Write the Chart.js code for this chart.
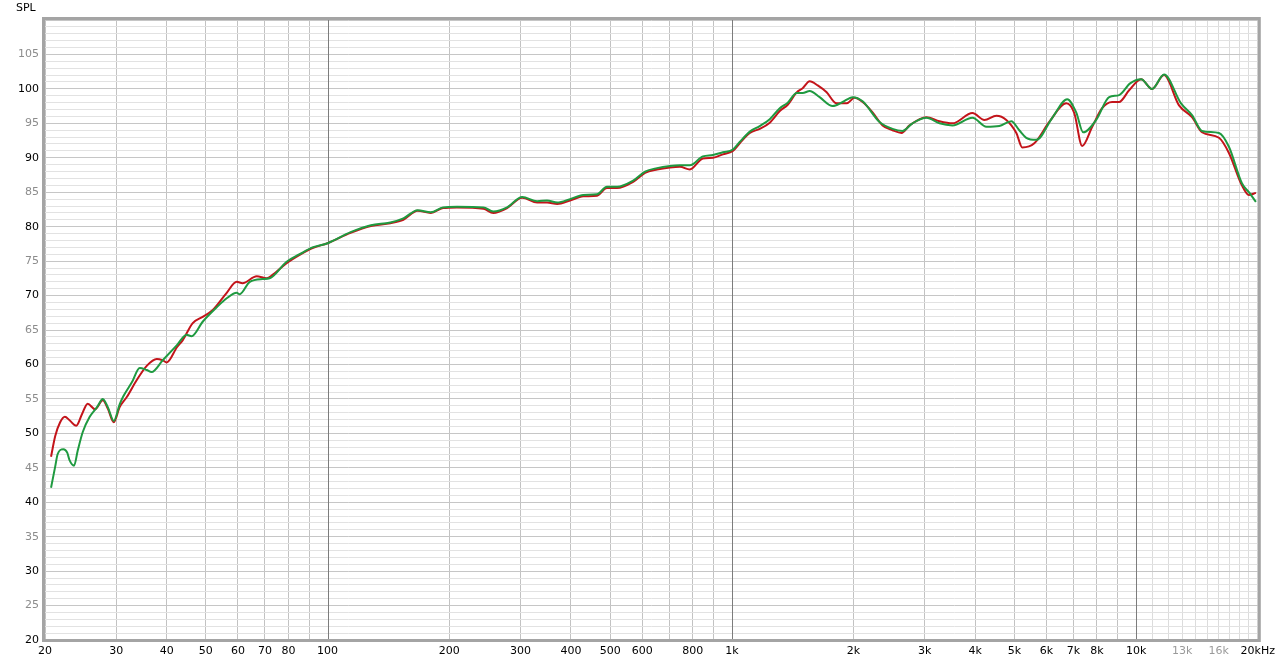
<!DOCTYPE html>
<html>
<head>
<meta charset="utf-8">
<script src="https://cdn.jsdelivr.net/npm/chart.js@4"></script>
<style>
  html, body { margin: 0; padding: 0; background: #fff; }
  #wrap { position: relative; width: 1280px; height: 667px; }
</style>
</head>
<body>
<div id="wrap"><canvas id="spl" width="1280" height="667"></canvas></div>
<script>
// frequency (Hz) / SPL (dB)
const redFreq = [
  20.7, 21.2, 21.8, 22.4, 23.0, 23.9, 24.7, 25.5, 26.6, 27.8, 28.6, 29.6, 30.6, 31.9, 33.7, 35.7, 37.8,
  39.1, 40.0, 42.4, 43.8, 46.4, 49.1, 52.0, 56.3, 59.6, 61.6, 66.8, 70.7, 73.1, 79.2, 85.3, 91.8, 100,
  114, 128, 143, 154, 167, 180, 193, 209, 243, 257, 278, 303, 330, 349, 370, 398, 429, 464, 491, 520,
  570, 610, 653, 703, 744, 787, 848, 898, 950, 1006,
  1046, 1108, 1172, 1241, 1314, 1375, 1447, 1497, 1558, 1631, 1716, 1816, 1923, 2012, 2106, 2229, 2360,
  2497, 2629, 2751, 3030, 3263, 3513, 3937, 4215, 4512, 4775, 5056, 5230, 5600, 6099, 6718, 7030, 7356,
  7789, 8241, 8724, 9078, 9610, 10287, 10951, 11725, 12770, 13750, 14555, 16030, 16966, 18269, 19010, 19790
];
const redSpl = [
  46.6, 49.6, 51.6, 52.4, 51.9, 51.1, 52.8, 54.3, 53.5, 54.8, 53.6, 51.6, 53.8, 55.3, 57.7, 59.8, 60.8,
  60.6, 60.3, 62.5, 63.5, 66.0, 66.9, 67.9, 70.4, 72.0, 71.8, 72.8, 72.5, 73.0, 74.7, 75.9, 76.9, 77.6,
  79.1, 80.1, 80.5, 81.0, 82.3, 82.0, 82.7, 82.8, 82.6, 82.0, 82.7, 84.2, 83.5, 83.5, 83.3, 83.8, 84.4, 84.5, 85.6, 85.6,
  86.5, 87.8, 88.3, 88.6, 88.7, 88.3, 89.9, 90.0, 90.5, 91.0,
  92.1, 93.6, 94.2, 95.1, 96.8, 97.7, 99.5, 100.1, 101.1, 100.5, 99.5, 97.9, 97.9, 98.7, 98.1, 96.6, 94.7,
  94.0, 93.6, 94.7, 95.9, 95.3, 95.0, 96.5, 95.5, 96.1, 95.5, 93.6, 91.5, 92.1, 95.2, 97.9, 96.5, 91.7,
  94.5, 97.2, 98.1, 98.1, 99.8, 101.4, 100.0, 102.0, 97.6, 95.9, 93.7, 92.9, 90.7, 86.0, 84.6, 84.9
];

const greenFreq = [
  20.7, 21.2, 21.5, 22.2, 22.7, 23.0, 23.6, 24.1, 24.8, 25.8, 26.9, 27.8, 28.6, 29.6, 30.6, 31.2, 32.8, 34.3,
  35.7, 36.7, 39.1, 42.4, 44.8, 46.1, 49.1, 53.2, 56.3, 59.6, 60.6, 64.2, 69.1, 71.9, 79.2, 85.3, 91.8, 100,
  114, 128, 143, 154, 167, 180, 193, 209, 243, 257, 278, 303, 330, 349, 370, 398, 429, 464, 491, 520,
  570, 610, 653, 703, 744, 787, 848, 898, 950, 1006,
  1046, 1108, 1172, 1241, 1314, 1375, 1447, 1497, 1558, 1649, 1776, 1880, 1990, 2106, 2319, 2497, 2644,
  2798, 3030, 3263, 3513, 3937, 4264, 4588, 4913, 5140, 5350, 5664, 6204, 6754, 7109, 7398, 7966, 8577,
  9078, 9665, 10287, 10951, 11725, 12915, 13750, 14555, 16030, 16966, 18269, 19010, 19790
];
const greenSpl = [
  42.1, 45.2, 47.0, 47.7, 47.2, 46.1, 45.3, 47.5, 50.2, 52.4, 53.8, 55.0, 53.8, 51.8, 54.2, 55.3, 57.4, 59.5,
  59.2, 58.9, 60.6, 62.8, 64.3, 64.1, 66.2, 68.3, 69.6, 70.4, 70.2, 72.0, 72.4, 72.5, 74.9, 76.0, 77.0, 77.6,
  79.2, 80.2, 80.6, 81.2, 82.4, 82.1, 82.8, 82.9, 82.8, 82.2, 82.8, 84.3, 83.7, 83.8, 83.5, 84.0, 84.6, 84.7, 85.8, 85.8,
  86.7, 88.0, 88.5, 88.8, 88.9, 88.9, 90.2, 90.4, 90.8, 91.2,
  92.3, 93.8, 94.6, 95.6, 97.2, 98.0, 99.4, 99.4, 99.7, 98.8, 97.5, 98.1, 98.8, 98.2, 95.2, 94.2, 93.9,
  95.0, 95.8, 95.0, 94.7, 95.8, 94.5, 94.6, 95.3, 94.0, 92.9, 92.6, 95.8, 98.5, 96.6, 93.7, 95.5, 98.8,
  99.1, 100.8, 101.4, 100.0, 102.1, 97.9, 96.2, 93.9, 93.6, 91.6, 86.3, 85.0, 83.6
];

// axis ticks
const xGridVals = [20, 30, 40, 50, 60, 70, 80, 90, 100, 200, 300, 400, 500, 600, 700, 800, 900,
  1000, 2000, 3000, 4000, 5000, 6000, 7000, 8000, 9000, 10000,
  11000, 12000, 13000, 14000, 15000, 16000, 17000, 18000, 19000, 20000];
const xDecades = [100, 1000, 10000];
const xTickVals = [20, 30, 40, 50, 60, 70, 80, 100, 200, 300, 400, 500, 600, 800,
  1000, 2000, 3000, 4000, 5000, 6000, 7000, 8000, 10000, 13000, 16000, 20000];
const xTickText = ['20', '30', '40', '50', '60', '70', '80', '100', '200', '300', '400', '500', '600', '800',
  '1k', '2k', '3k', '4k', '5k', '6k', '7k', '8k', '10k', '13k', '16k', '20kHz'];
const xGreyLabels = [13000, 16000];
const yMin = 20, yMax = 110;

const FONT = { family: '"DejaVu Sans", sans-serif', size: 11 };

const xLabel = {};
xTickVals.forEach((v, i) => { xLabel[v] = xTickText[i]; });

const pts = (fs, vs) => fs.map((f, i) => ({ x: f, y: vs[i] }));

// solid decade lines on top of the 1 dB grid, then frame + "SPL"
const framePlugin = {
  id: 'frame',
  beforeDatasetsDraw(chart) {
    const { ctx, chartArea: a, scales } = chart;
    ctx.save();
    ctx.strokeStyle = '#7c7c7c';
    ctx.lineWidth = 1;
    xDecades.forEach(v => {
      const x = Math.round(scales.x.getPixelForValue(v)) + 0.5;
      ctx.beginPath();
      ctx.moveTo(x, a.top);
      ctx.lineTo(x, a.bottom);
      ctx.stroke();
    });
    ctx.restore();
  },
  afterDraw(chart) {
    const { ctx, chartArea: a } = chart;
    ctx.save();
    ctx.strokeStyle = '#a4a4a4';
    ctx.lineWidth = 3;
    ctx.strokeRect(a.left - 1.5, a.top - 1.5, a.right - a.left + 3, a.bottom - a.top + 2);
    ctx.fillStyle = '#000';
    ctx.font = '11px "DejaVu Sans", sans-serif';
    ctx.textBaseline = 'top';
    ctx.fillText('SPL', 16, 3);
    ctx.restore();
  }
};

new Chart(document.getElementById('spl'), {
  type: 'line',
  data: {
    datasets: [
      { label: 'green', data: pts(greenFreq, greenSpl), borderColor: '#1f9a40', borderWidth: 2,
        pointRadius: 0, cubicInterpolationMode: 'monotone', fill: false },
      { label: 'red', data: pts(redFreq, redSpl), borderColor: '#c3141a', borderWidth: 2,
        pointRadius: 0, cubicInterpolationMode: 'monotone', fill: false }
    ]
  },
  options: {
    responsive: false,
    animation: false,
    devicePixelRatio: 1,
    layout: { padding: { top: 20, right: 22, left: 0, bottom: 0 } },
    plugins: { legend: { display: false }, tooltip: { enabled: false } },
    scales: {
      x: {
        type: 'logarithmic', min: 20, max: 20000,
        afterBuildTicks: ax => { ax.ticks = xGridVals.map(v => ({ value: v })); },
        afterFit: ax => { ax.height = 27; },
        border: { display: false },
        grid: {
          drawTicks: false,
          color: c => {
            const v = c.tick.value;
            if (xDecades.includes(v)) return 'rgba(0,0,0,0)';
            if (v > 10000) return '#dcdcdc';
            return '#c2c2c2';
          }
        },
        ticks: {
          autoSkip: false, maxRotation: 0, padding: 5, font: FONT,
          color: c => xGreyLabels.includes(c.tick.value) ? '#9a9a9a' : '#000',
          callback: v => xLabel[v] || ''
        }
      },
      y: {
        min: yMin, max: yMax,
        afterBuildTicks: ax => {
          const t = [];
          for (let v = yMin; v <= yMax; v++) t.push({ value: v });
          ax.ticks = t;
        },
        afterFit: ax => { ax.width = 45; },
        border: { display: false },
        grid: {
          drawTicks: false,
          color: c => c.tick.value % 5 === 0 ? '#c6c6c6' : '#e2e2e2'
        },
        ticks: {
          autoSkip: false, padding: 6, font: FONT,
          color: c => c.tick.value % 10 === 0 ? '#000' : '#8c8c8c',
          callback: v => (v % 5 === 0 && v < yMax) ? String(v) : ''
        }
      }
    }
  },
  plugins: [framePlugin]
});
</script>
</body>
</html>
